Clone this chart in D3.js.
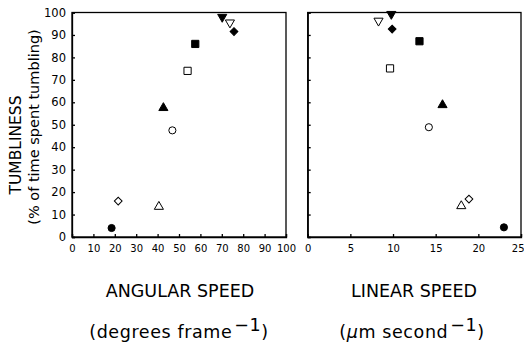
<!DOCTYPE html>
<html>
<head>
<meta charset="utf-8">
<script src="https://cdn.jsdelivr.net/npm/d3@7"></script>
<style>
  body { margin: 0; background: #fff; }
  svg { display: block; font-family: "DejaVu Sans", sans-serif; }
  .axis path, .axis line { stroke: #000; stroke-width: 1.3; }
  .axis text { fill: #000; }
</style>
</head>
<body>
<script>
// marker for each strain, same order in every array
const markers = ["circleFilled", "diamondOpen", "triangleOpen", "circleOpen", "triangleFilled",
                 "squareOpen", "squareFilled", "downFilled", "downOpen", "diamondFilled"];
// angular speed (degrees / frame)
const angularSpeed = [18.5, 21.6, 40.6, 46.9, 42.7, 54.0, 57.6, 70.2, 73.8, 75.7];
const tumbleAngular = [4.0, 16.0, 13.5, 47.5, 57.5, 74.0, 86.0, 98.0, 95.5, 91.5];
// linear speed (um / second)
const linearSpeed = [23.0, 18.9, 18.0, 14.2, 15.8, 9.65, 13.1, 9.8, 8.3, 9.9];
const tumbleLinear = [4.3, 16.9, 13.8, 48.9, 58.8, 75.1, 87.2, 99.3, 96.3, 92.6];

const yTicks = [0, 10, 20, 30, 40, 50, 60, 70, 80, 90, 100];
const angTicks = [0, 10, 20, 30, 40, 50, 60, 70, 80, 90, 100];
const linTicks = [0, 5, 10, 15, 20, 25];

const W = 524, H = 346;
const yTop = 12.5, yBottom = 237;

const svg = d3.select("body").append("svg")
    .attr("width", W)
    .attr("height", H);

svg.append("rect").attr("width", W).attr("height", H).attr("fill", "#fff");

const y = d3.scaleLinear().domain([0, 100]).range([yBottom, yTop]);
const xA = d3.scaleLinear().domain([0, 100]).range([72, 286]);
const xL = d3.scaleLinear().domain([0, 25]).range([307.7, 521]);

function symbolFor(m) {
  let type = d3.symbolCircle, size = 40;
  if (m.startsWith("diamond")) { type = d3.symbolSquare; size = 30; }
  if (m.startsWith("square")) { type = d3.symbolSquare; size = 52; }
  if (m.startsWith("triangle") || m.startsWith("down")) { type = d3.symbolTriangle; size = 36; }
  return d3.symbol().type(type).size(size)();
}
function rotFor(m) {
  if (m.startsWith("diamond")) return 45;
  if (m.startsWith("down")) return 180;
  return 0;
}

function panel(x, xs, ys, ticks, showYLabels) {
  // frame
  svg.append("rect")
      .attr("x", x.range()[0]).attr("y", yTop)
      .attr("width", x.range()[1] - x.range()[0])
      .attr("height", yBottom - yTop)
      .attr("fill", "none").attr("stroke", "#000").attr("stroke-width", 1.3);

  const xa = svg.append("g").attr("class", "axis")
      .attr("transform", `translate(0,${yBottom})`)
      .call(d3.axisBottom(x).tickValues(ticks).tickSize(-3).tickPadding(8).tickFormat(d3.format("d")))
      .call(g => g.selectAll("text").attr("font-size", 10).attr("font-family", "DejaVu Sans"));
  // keep the last label inside the page
  xa.selectAll(".tick text").filter(d => x(d) > W - 8)
      .attr("text-anchor", "end").attr("x", W - x.range()[1]);

  svg.append("g").attr("class", "axis")
      .attr("transform", `translate(${x.range()[0]},0)`)
      .call(d3.axisLeft(y).tickValues(yTicks).tickSize(-3).tickPadding(6)
        .tickFormat(showYLabels ? d3.format("d") : () => ""))
      .call(g => g.selectAll("text").attr("font-size", 11.5).attr("font-family", "DejaVu Sans"));

  svg.append("g").selectAll("path")
    .data(markers)
    .join("path")
      .attr("d", m => symbolFor(m))
      .attr("transform", (m, i) => `translate(${x(xs[i])},${y(ys[i])}) rotate(${rotFor(m)})`)
      .attr("fill", m => m.endsWith("Filled") ? "#000" : "#fff")
      .attr("stroke", "#000")
      .attr("stroke-width", 1);
}

panel(xA, angularSpeed, tumbleAngular, angTicks, true);
panel(xL, linearSpeed, tumbleLinear, linTicks, false);

// y titles
svg.append("text")
    .attr("transform", "translate(20.5,145) rotate(-90)")
    .attr("text-anchor", "middle")
    .attr("font-size", 15.5)
    .text("TUMBLINESS");
svg.append("text")
    .attr("transform", "translate(38.5,127) rotate(-90)")
    .attr("text-anchor", "middle")
    .attr("font-size", 14.5)
    .text("(% of time spent tumbling)");

// x titles
svg.append("text")
    .attr("x", 180).attr("y", 297)
    .attr("text-anchor", "middle").attr("font-size", 17.5)
    .text("ANGULAR SPEED");
svg.append("text")
    .attr("x", 414).attr("y", 297)
    .attr("text-anchor", "middle").attr("font-size", 17.5)
    .text("LINEAR SPEED");

const u1 = svg.append("text")
    .attr("x", 179).attr("y", 338)
    .attr("text-anchor", "middle").attr("font-size", 17.5)
    .attr("letter-spacing", 0.6);
u1.append("tspan").text("(degrees frame");
u1.append("tspan").attr("dy", -7).attr("dx", 2).text("\u22121");
u1.append("tspan").attr("dy", 7).text(")");

const u2 = svg.append("text")
    .attr("x", 412).attr("y", 338)
    .attr("text-anchor", "middle").attr("font-size", 17.5)
    .attr("letter-spacing", 0.6);
u2.append("tspan").text("(");
u2.append("tspan").attr("font-style", "italic").text("\u03bc");
u2.append("tspan").text("m second");
u2.append("tspan").attr("dy", -7).attr("dx", 2).text("\u22121");
u2.append("tspan").attr("dy", 7).text(")");
</script>
</body>
</html>
